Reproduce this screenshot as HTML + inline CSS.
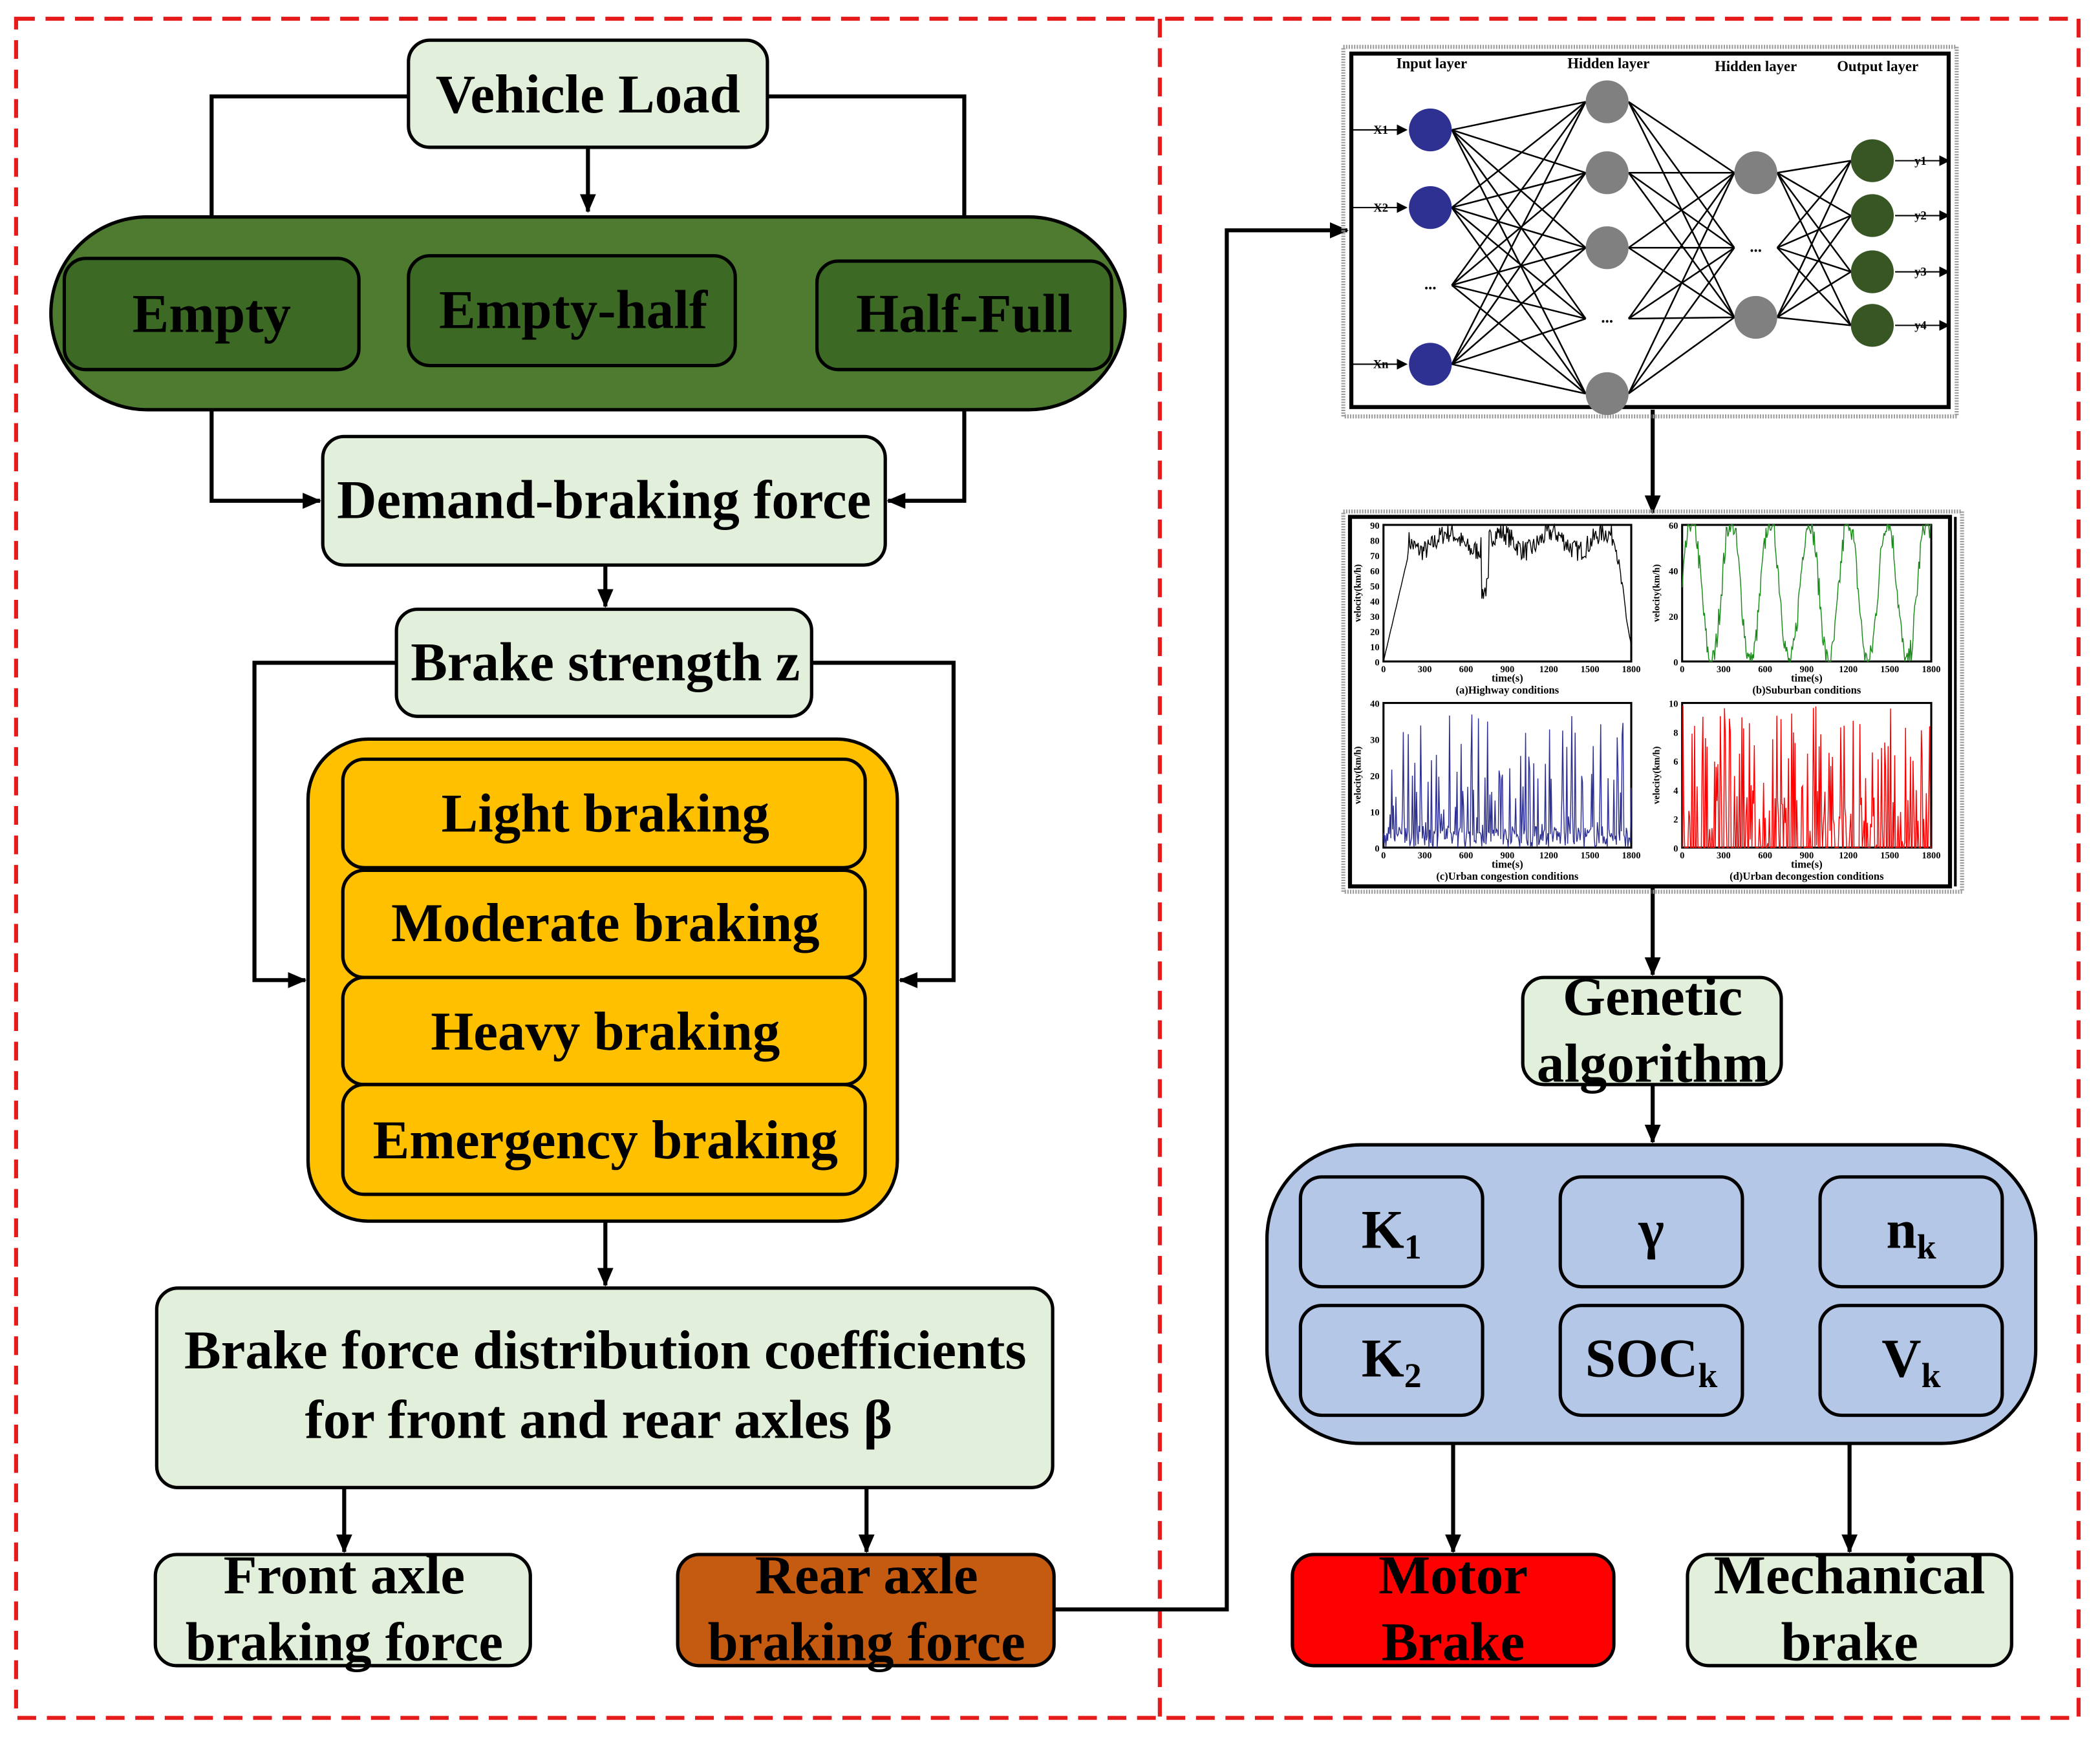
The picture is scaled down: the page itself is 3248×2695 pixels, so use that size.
<!DOCTYPE html>
<html><head><meta charset="utf-8"><style>
html,body{margin:0;padding:0;background:#fff;}
svg{display:block;}
text{font-family:"Liberation Serif",serif;font-weight:bold;}
</style></head><body>
<svg id="s" width="3248" height="2695" viewBox="0 0 1568 1301" xmlns="http://www.w3.org/2000/svg">
<defs>
<marker id="ar" markerWidth="8" markerHeight="8" refX="7" refY="4" orient="auto" markerUnits="userSpaceOnUse"><path d="M0,0 L8,4 L0,8 z" fill="#000"/></marker>
<marker id="ar2" markerWidth="14" markerHeight="12" refX="13" refY="6" orient="auto" markerUnits="userSpaceOnUse"><path d="M0,0 L14,6 L0,12 z" fill="#000"/></marker>
</defs>
<rect width="1568" height="1301" fill="#fff"/>
<rect x="12" y="14" width="1540" height="1269" fill="none" stroke="#e51a1a" stroke-width="3" stroke-dasharray="14,8"/>
<line x1="866" y1="14" x2="866" y2="1283" stroke="#e51a1a" stroke-width="3" stroke-dasharray="14,8"/>

<g stroke="#000" stroke-width="3" fill="none">
<polyline points="305,72 158,72 158,162"/>
<polyline points="573,72 720,72 720,162"/>
<line x1="439" y1="110" x2="439" y2="158" marker-end="url(#ar2)"/>
<polyline points="158,306 158,374 239,374" marker-end="url(#ar2)"/>
<polyline points="720,306 720,374 663,374" marker-end="url(#ar2)"/>
<line x1="452" y1="422" x2="452" y2="453" marker-end="url(#ar2)"/>
<polyline points="296,495 190,495 190,732 228,732" marker-end="url(#ar2)"/>
<polyline points="606,495 712,495 712,732 672,732" marker-end="url(#ar2)"/>
<line x1="452" y1="912" x2="452" y2="960" marker-end="url(#ar2)"/>
<line x1="257" y1="1111" x2="257" y2="1159" marker-end="url(#ar2)"/>
<line x1="647" y1="1111" x2="647" y2="1159" marker-end="url(#ar2)"/>
<polyline points="787,1202 916,1202 916,172 1006,172" marker-end="url(#ar2)"/>
<line x1="1234" y1="306" x2="1234" y2="383" marker-end="url(#ar2)"/>
<line x1="1234" y1="662" x2="1234" y2="728" marker-end="url(#ar2)"/>
<line x1="1234" y1="810" x2="1234" y2="853" marker-end="url(#ar2)"/>
<line x1="1085" y1="1078" x2="1085" y2="1159" marker-end="url(#ar2)"/>
<line x1="1381" y1="1078" x2="1381" y2="1159" marker-end="url(#ar2)"/>
</g>

<g stroke="#000" stroke-width="2.5">
<rect x="305" y="30" width="268" height="80" rx="16" fill="#e2efda"/>
<rect x="38" y="162" width="802" height="144" rx="72" fill="#4e7b2f"/>
<rect x="48" y="193" width="220" height="83" rx="16" fill="#3c6a25"/>
<rect x="305" y="191" width="244" height="82" rx="16" fill="#3c6a25"/>
<rect x="610" y="195" width="220" height="81" rx="16" fill="#3c6a25"/>
<rect x="241" y="326" width="420" height="96" rx="16" fill="#e2efda"/>
<rect x="296" y="455" width="310" height="80" rx="16" fill="#e2efda"/>
<rect x="230" y="552" width="440" height="360" rx="45" fill="#ffc000"/>
<rect x="256" y="567" width="390" height="81" rx="16" fill="#ffc000"/>
<rect x="256" y="650" width="390" height="80" rx="16" fill="#ffc000"/>
<rect x="256" y="730" width="390" height="80" rx="16" fill="#ffc000"/>
<rect x="256" y="810" width="390" height="82" rx="16" fill="#ffc000"/>
<rect x="117" y="962" width="669" height="149" rx="16" fill="#e2efda"/>
<rect x="116" y="1161" width="280" height="83" rx="16" fill="#e2efda"/>
<rect x="506" y="1161" width="281" height="83" rx="16" fill="#c55a11"/>
<rect x="1137" y="730" width="193" height="80" rx="16" fill="#e2efda"/>
<rect x="946" y="855" width="574" height="223" rx="70" fill="#b4c7e7"/>
<rect x="971" y="879" width="136" height="82" rx="16" fill="#b4c7e7"/>
<rect x="1165" y="879" width="136" height="82" rx="16" fill="#b4c7e7"/>
<rect x="1359" y="879" width="136" height="82" rx="16" fill="#b4c7e7"/>
<rect x="971" y="975" width="136" height="82" rx="16" fill="#b4c7e7"/>
<rect x="1165" y="975" width="136" height="82" rx="16" fill="#b4c7e7"/>
<rect x="1359" y="975" width="136" height="82" rx="16" fill="#b4c7e7"/>
<rect x="965" y="1161" width="240" height="83" rx="16" fill="#ff0000"/>
<rect x="1260" y="1161" width="242" height="83" rx="16" fill="#e2efda"/>
</g>

<g font-size="41" text-anchor="middle" fill="#000">
<text x="439" y="84">Vehicle Load</text>
<text x="158" y="248">Empty</text>
<text x="428" y="245">Empty-half</text>
<text x="720" y="248">Half-Full</text>
<text x="451" y="387">Demand-braking force</text>
<text x="452" y="508">Brake strength z</text>
<text x="452" y="621">Light braking</text>
<text x="452" y="703">Moderate braking</text>
<text x="452" y="784">Heavy braking</text>
<text x="452" y="865">Emergency braking</text>
<text x="452" y="1022">Brake force distribution coefficients</text>
<text x="447" y="1074">for front and rear axles  β</text>
<text x="257" y="1190">Front axle</text>
<text x="257" y="1240">braking force</text>
<text x="647" y="1190">Rear axle</text>
<text x="647" y="1240">braking force</text>
<text x="1234" y="758">Genetic</text>
<text x="1234" y="808">algorithm</text>
<text x="1085" y="1190">Motor</text>
<text x="1085" y="1240">Brake</text>
<text x="1381" y="1190">Mechanical</text>
<text x="1381" y="1240">brake</text>
<text x="1039" y="932">K<tspan font-size="26" dy="8">1</tspan></text>
<text x="1233" y="932">γ</text>
<text x="1427" y="932">n<tspan font-size="26" dy="8">k</tspan></text>
<text x="1039" y="1028">K<tspan font-size="26" dy="8">2</tspan></text>
<text x="1233" y="1028">SOC<tspan font-size="26" dy="8">k</tspan></text>
<text x="1427" y="1028">V<tspan font-size="26" dy="8">k</tspan></text>
</g>

<!-- NN box -->
<rect x="1003" y="35" width="458" height="276" fill="none" stroke="#999" stroke-width="3" stroke-dasharray="1,1"/>
<rect x="1009" y="40" width="446" height="264" fill="#fff" stroke="#000" stroke-width="3"/>
<g id="nn"></g>
<g font-size="11" text-anchor="middle">
<text x="1069" y="51">Input layer</text><text x="1201" y="51">Hidden layer</text>
<text x="1311" y="53">Hidden layer</text><text x="1402" y="53">Output layer</text>
</g>
<!-- charts -->
<rect x="1003" y="382" width="462" height="284" fill="none" stroke="#999" stroke-width="3" stroke-dasharray="1,1"/>
<rect x="1008" y="386" width="448" height="276" fill="#fff" stroke="#000" stroke-width="3"/>
<line x1="1460" y1="386" x2="1460" y2="662" stroke="#000" stroke-width="2"/>
<g id="ch"></g>
</svg>
<script>
var NS="http://www.w3.org/2000/svg",nn=document.getElementById("nn");
function el(t,a,p){var e=document.createElementNS(NS,t);for(var k in a)e.setAttribute(k,a[k]);(p||nn).appendChild(e);return e;}
var L=[[1068,[97,155,213,272],[1,1,0,1],"#2e3192"],[1200,[76,129,185,238,294],[1,1,1,0,1],"#808080"],[1311,[129,185,237],[1,0,1],"#808080"],[1398,[120,161,203,243],[1,1,1,1],"#375623"]];
for(var i=0;i<3;i++){var a=L[i],b=L[i+1];a[1].forEach(function(y1){b[1].forEach(function(y2){el("line",{x1:a[0]+16,y1:y1,x2:b[0]-16,y2:y2,stroke:"#000","stroke-width":1.2});});});}
L.forEach(function(l){l[1].forEach(function(y,j){if(l[2][j])el("ellipse",{cx:l[0],cy:y,rx:16,ry:16,fill:l[3]});else{var t=el("text",{x:l[0],y:y+3,"font-size":12,"text-anchor":"middle"});t.textContent="...";}});});
["X1","X2","Xn"].forEach(function(n,j){var y=[97,155,272][j];el("line",{x1:1010,y1:y,x2:1050,y2:y,stroke:"#000","stroke-width":1,"marker-end":"url(#ar)"});var t=el("text",{x:1031,y:y+3,"font-size":9,"text-anchor":"middle",fill:"#000"});t.textContent=n;});
[120,161,203,243].forEach(function(y,j){el("line",{x1:1415,y1:y,x2:1455,y2:y,stroke:"#000","stroke-width":1,"marker-end":"url(#ar)"});var t=el("text",{x:1434,y:y+3,"font-size":9,"text-anchor":"middle"});t.textContent="y"+(j+1);});
var ch=document.getElementById("ch");
var P=[[1033,392,185,102,90,"#000","(a)Highway conditions",0,[0,10,20,30,40,50,60,70,80,90]],[1256,392,186,102,60,"#1a8a1a","(b)Suburban conditions",1,[0,20,40,60]],[1033,525,185,108,40,"#2e3192","(c)Urban congestion conditions",2,[0,10,20,30,40]],[1256,525,186,108,10,"#ff0000","(d)Urban decongestion conditions",3,[0,2,4,6,8,10]]];
var seed=7;function r(){seed=(seed*16807)%2147483647;return seed/2147483647;}
P.forEach(function(p){var x=p[0],y=p[1],w=p[2],h=p[3],m=p[4];
el("rect",{x:x,y:y,width:w,height:h,fill:"none",stroke:"#000","stroke-width":1.5},ch);
var pts=[],v=0,n=300;
for(var k=0;k<=n;k++){var t=k/n;
if(p[7]==0){v=t<0.1?t*700:(t>0.93?Math.max(0,80-(t-0.93)*1100+r()*10):72+r()*14+6*Math.sin(t*30)-(Math.abs(t-0.41)<0.015?30:0));}
else if(p[7]==1){v=Math.max(0,Math.min(60,25+32*Math.sin(t*40)+r()*12));}
else if(p[7]==2){v=r()<0.3?r()*38:r()*6;}
else{v=r()<0.5?r()*10:0;}
v=Math.max(0,Math.min(m,v));pts.push((x+t*w).toFixed(1)+","+(y+h-v/m*h).toFixed(1));}
el("polyline",{points:pts.join(" "),fill:"none",stroke:p[5],"stroke-width":0.7},ch);
[0,300,600,900,1200,1500,1800].forEach(function(s){var t=el("text",{x:x+s/1800*w,y:y+h+8,"font-size":7,"text-anchor":"middle","font-weight":"normal"},ch);t.textContent=s;});
p[8].forEach(function(s){var t=el("text",{x:x-3,y:y+h-s/m*h+3,"font-size":7,"text-anchor":"end","font-weight":"normal"},ch);t.textContent=s;});
var t=el("text",{x:x+w/2,y:y+h+15,"font-size":8,"text-anchor":"middle"},ch);t.textContent="time(s)";
t=el("text",{x:x+w/2,y:y+h+24,"font-size":8,"text-anchor":"middle"},ch);t.textContent=p[6];
t=el("text",{x:0,y:0,"font-size":7,"text-anchor":"middle",transform:"translate("+(x-17)+","+(y+h/2)+") rotate(-90)"},ch);t.textContent="velocity(km/h)";
});
</script>
</body></html>
